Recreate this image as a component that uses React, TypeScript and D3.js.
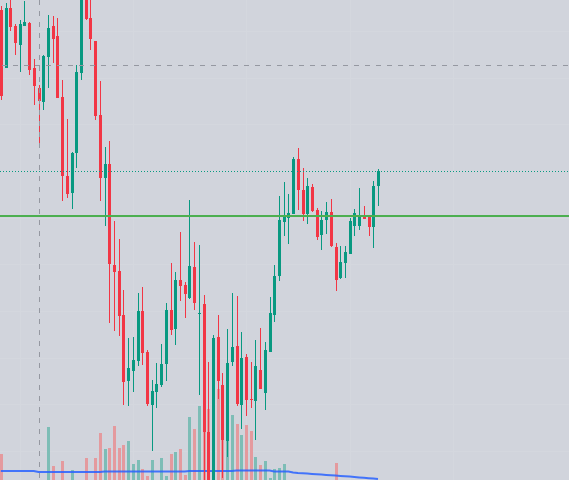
import React, { useEffect } from 'react';
import * as d3 from 'd3';

// OHLC values (arbitrary price units)
const openP = [490,432,492,474,455,474,477,432,412,398,443,474,464,403,324,307,347,427,504,482,459,385,322,336,235,229,185,119,129,139,189,148,95,108,115,136,190,171,220,215,202,233,186.5,196,68,10,163,115,59,138,154,95,143,101,99,130,107,148,185,224,278,282,286,341,310,286,313,290,265,280,288,253,222,237,246,274,274,285,283,273,314];
const highP = [494,497,503,476,480,499,478,441,415,445,485,484,482,420,381,348,435,510,508,504,459,419,353,359,279,261,210,162,163,207,213,150,120,137,156,197,237,228,268,218,300,258,255,205,138,165,185,127,171,207,204,168,146,138,160,172,158,203,235,304,318,306,343,352,332,322,316,292,289,298,301,257,254,254,282,291,312,294,284,319,331];
const lowP = [400,432,469,445,428,474,425,395,357,390,412,437,402,299,302,291,332,420,480,450,380,299,274,177,169,164,95,94,108,134,135,94,49,92,113,119,165,155,199,182,201,190,105,15,5,5,101,22,43,134,94,71,84,92,60,111,90,148,178,219,264,256,286,290,279,276,288,260,250,266,253,209,221,222,246,264,270,281,264,252,294];
const closeP = [404,492,473,457,476,478,430,414,399,444,472,461,402,324,306,347,428,506,481,461,384,322,336,236,228,184,118,132,140,189,147,96,109,116,136,190,170,220,214,206,234,197,187.5,68,10,162,119,60,137,153,96,142,100,100,134,111,150,187,224,280,284,287,341,310,286,314,289,263,280,288,254,220,238,248,279,287,285,281,273,314,329];
const volume = [26,0,0,0,0,0,0,0,0,0,53,14,0,19,0,10,0,0,22,0,22,47,31,32,54,32,35,39,16,20,11,4,20,0,22,4,26,28,31,5,63,51,74,65,71,80,91,58,57,65,56,45,55,49,23,15,19,2,11,12,16,0,0,0,0,0,0,0,0,0,0,17,0,0,0,0,0,0,0,0,0];
const volumeMA = [9,9,9,9,9,9,9,9,8,8,8,8,8,8,8,8,8,8,8,8,8,8,8.5,8.5,8.5,8.5,8.5,8.5,8.5,8.5,8.5,8.5,8.5,8.5,8.5,8.5,8.5,8.5,8.5,8.5,9,9,9,9,9,9,9,9,9,9,9.5,9.5,9.5,9.5,9.5,9.5,9.5,9.5,8.5,8.5,8.5,8.5,7.5,7,6.7,6.4,6,5.7,5.4,5,4.7,4.4,4,3.7,3.4,3,2.6,2.2,1.8,1.4,1];

const gridPriceTicks = [469, 422.3, 375.7, 329, 282.3, 235.7, 189, 142.3, 95.7, 49];
const gridIndexTicks = [4, 28, 52, 74, 96];
const supportLevel = 284;
const lastPrice = 328.5;
const crosshairPrice = 434.5;
const crosshairIndex = 8;

const UP = '#089981';
const DOWN = '#f23645';
const UP_VOL = '#7dbdb6';
const DOWN_VOL = '#e49a9e';

export default function App() {
  useEffect(() => {
    document.body.style.margin = '0';
  }, []);
  const W = 569;
  const H = 480;
  const x = d3.scaleLinear().domain([0, 80]).range([0.8, 378]);
  const y = d3.scaleLinear().domain([20, 500]).range([480, 0]);
  const v = d3.scaleLinear().domain([0, 100]).range([480, 380]);

  const maLine = d3
    .line<number>()
    .x((_, i) => x(i))
    .y((d) => v(d))(volumeMA) as string;

  const candles = openP.map((o, i) => ({
    o,
    h: highP[i],
    l: lowP[i],
    c: closeP[i],
    vol: volume[i],
    up: closeP[i] >= o,
  }));

  return (
    <svg
      width={W}
      height={H}
      style={{ display: 'block', position: 'absolute', left: 0, top: 0 }}
    >
      <rect x={0} y={0} width={W} height={H} fill="#d1d4dc" />
      <g>
        {gridPriceTicks.map((p, i) => (
          <line key={'gh' + i} x1={0} x2={W} y1={Math.round(y(p)) + 0.5} y2={Math.round(y(p)) + 0.5} stroke="#d4d7de" strokeWidth={1} />
        ))}
        {gridIndexTicks.map((t, i) => (
          <line key={'gv' + i} y1={0} y2={H} x1={Math.round(x(t)) + 0.5} x2={Math.round(x(t)) + 0.5} stroke="#d4d7de" strokeWidth={1} />
        ))}
      </g>
      <g>
        {candles.map((d, i) => {
          if (d.vol <= 0) return null;
          const cx = Math.round(x(i));
          const top = v(d.vol);
          return (
            <rect key={'v' + i} x={cx - 1} y={top} width={3} height={480 - top} fill={d.up ? UP_VOL : DOWN_VOL} />
          );
        })}
      </g>
      <path d={maLine} fill="none" stroke="#2962ff" strokeWidth={2} strokeOpacity={0.85} />
      <g>
        {candles.map((d, i) => {
          const cx = Math.round(x(i));
          const col = d.up ? UP : DOWN;
          const bTop = Math.round(y(Math.max(d.o, d.c)));
          const bBot = Math.round(y(Math.min(d.o, d.c)));
          const wTop = Math.round(y(d.h));
          const wBot = Math.round(y(d.l));
          return (
            <g key={'c' + i}>
              <rect x={cx} y={wTop} width={1} height={Math.max(1, wBot - wTop)} fill={col} />
              <rect x={cx - 1} y={bTop} width={3} height={Math.max(1, bBot - bTop)} fill={col} />
            </g>
          );
        })}
      </g>
      <line x1={0} x2={W} y1={y(supportLevel)} y2={y(supportLevel)} stroke="#4caf50" strokeWidth={2} />
      <line x1={0} x2={W} y1={y(lastPrice)} y2={y(lastPrice)} stroke={UP} strokeWidth={1} strokeDasharray="1,2" />
      <line x1={0} x2={W} y1={y(crosshairPrice)} y2={y(crosshairPrice)} stroke="#9598a1" strokeWidth={1} strokeDasharray="5,6" strokeDashoffset={9} />
      <line x1={Math.round(x(crosshairIndex)) + 0.5} x2={Math.round(x(crosshairIndex)) + 0.5} y1={0} y2={H} stroke="#9598a1" strokeWidth={1} strokeDasharray="5,6" />
    </svg>
  );
}
